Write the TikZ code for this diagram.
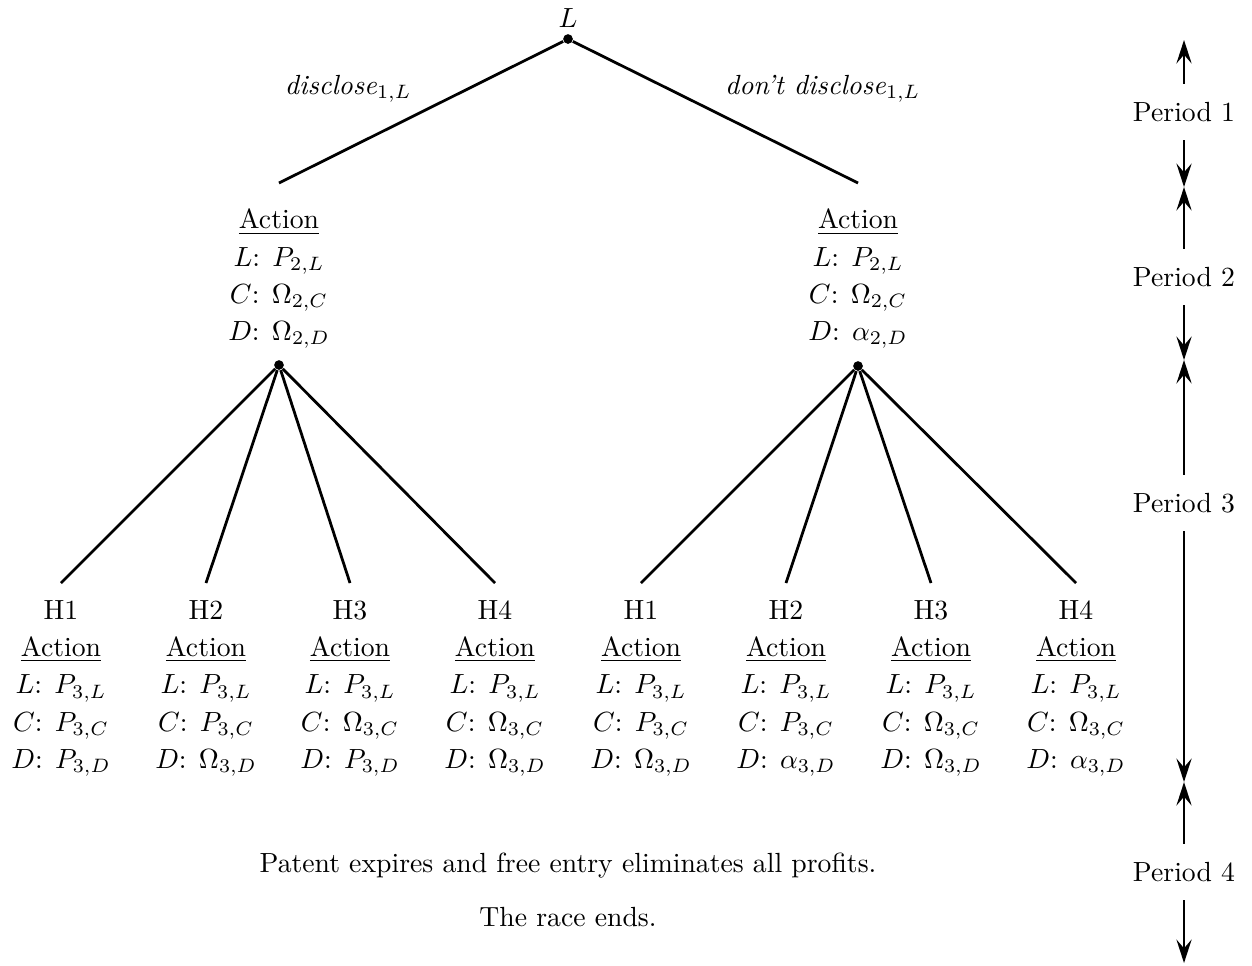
\documentclass[tikz,border=0pt]{standalone}
\usetikzlibrary{arrows.meta}

% text of one terminal history box
\newcommand\leaftext[4]{#1\\ \underline{Action}\\ $L$: $#2_{3,L}$\\ $C$: $#3_{3,C}$\\ $D$: $#4_{3,D}$}

\tikzset{
  branch/.style={line width=1pt},
  dot/.style={circle, fill=black, inner sep=0pt, minimum size=3.5pt},
  info/.style={align=center, inner sep=3pt, font=\linespread{1.12}\selectfont},
  midinfo/.style={info, outer ysep=6.4pt},
  leafinfo/.style={info, outer ysep=3.3pt},
  elabel/.style={inner sep=3pt},
  period/.style={inner sep=0pt, minimum height=20pt},
  parr/.style={line width=0.75pt, -{Stealth[length=8.5pt, width=5.5pt, inset=3.2pt]}},
}

\begin{document}
\begin{tikzpicture}[x=0.361pt, y=-0.361pt]
\useasboundingbox (0,0) rectangle (1252,965);

% period 1: the leader's disclosure choice
\node[dot, label={[inner sep=2pt]above:$L$}] (root) at (568,39) {};

% period 2 information sets
\node[midinfo, anchor=north] (aL) at (279,183)
  {\underline{Action}\\ $L$: $P_{2,L}$\\ $C$: $\Omega_{2,C}$\\ $D$: $\Omega_{2,D}$};
\node[midinfo, anchor=north] (aR) at (858,183)
  {\underline{Action}\\ $L$: $P_{2,L}$\\ $C$: $\Omega_{2,C}$\\ $D$: $\alpha_{2,D}$};

\draw[branch] (root) -- node[elabel, anchor=south east] {\textit{disclose}$_{1,L}$} (aL.north);
\draw[branch] (root) -- node[elabel, anchor=south west] {\textit{don't disclose}$_{1,L}$} (aR.north);

\node[dot] (dL) at (279,365) {};
\node[dot] (dR) at (858,366) {};

% period 3 histories after disclosure
\node[leafinfo, anchor=north] (l1) at (61,583)  {\leaftext{H1}{P}{P}{P}};
\node[leafinfo, anchor=north] (l2) at (206,583) {\leaftext{H2}{P}{P}{\Omega}};
\node[leafinfo, anchor=north] (l3) at (350,583) {\leaftext{H3}{P}{\Omega}{P}};
\node[leafinfo, anchor=north] (l4) at (495,583) {\leaftext{H4}{P}{\Omega}{\Omega}};

% period 3 histories without disclosure
\node[leafinfo, anchor=north] (r1) at (641,583)  {\leaftext{H1}{P}{P}{\Omega}};
\node[leafinfo, anchor=north] (r2) at (786,583)  {\leaftext{H2}{P}{P}{\alpha}};
\node[leafinfo, anchor=north] (r3) at (931,583)  {\leaftext{H3}{P}{\Omega}{\Omega}};
\node[leafinfo, anchor=north] (r4) at (1076,583) {\leaftext{H4}{P}{\Omega}{\alpha}};

\foreach \n in {l1,l2,l3,l4} \draw[branch] (dL) -- (\n.north);
\foreach \n in {r1,r2,r3,r4} \draw[branch] (dR) -- (\n.north);

% period 4
\node (end1) at (568,866) {Patent expires and free entry eliminates all profits.};
\node (end2) at (568,917) {The race ends.};

% time line on the right
\coordinate (t0) at (1184,40);
\coordinate (b1) at (1184,187);
\coordinate (b2) at (1184,360);
\coordinate (b3) at (1184,782);
\coordinate (t4) at (1184,963);

\node[period] (p1) at (1184,112) {Period 1};
\node[period] (p2) at (1184,277) {Period 2};
\node[period] (p3) at (1184,503) {Period 3};
\node[period] (p4) at (1184,872) {Period 4};

\draw[parr] (p1) -- (t0);
\draw[parr] (p1) -- (b1);
\draw[parr] (p2) -- (b1);
\draw[parr] (p2) -- (b2);
\draw[parr] (p3) -- (b2);
\draw[parr] (p3) -- (b3);
\draw[parr] (p4) -- (b3);
\draw[parr] (p4) -- (t4);
\end{tikzpicture}
\end{document}
